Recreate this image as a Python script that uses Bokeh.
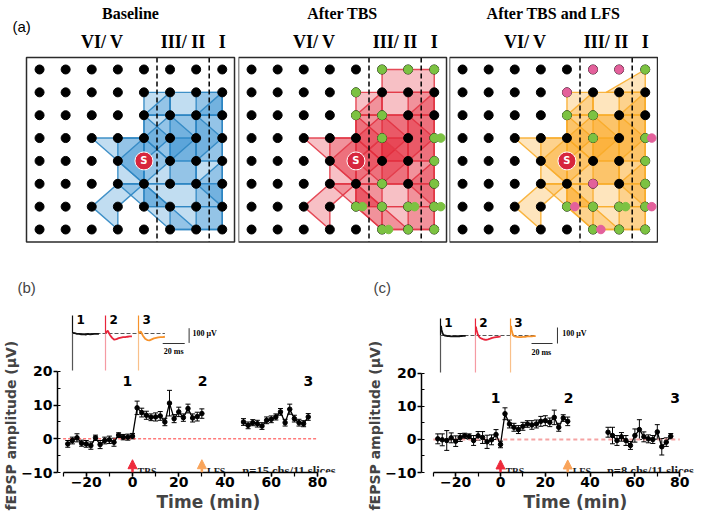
import numpy as np
from bokeh.plotting import figure
from bokeh.layouts import column, row
from bokeh.models import (Range1d, SingleIntervalTicker, Title, BoxAnnotation,
                          ColumnDataSource, Whisker, TeeHead, Arrow, NormalHead)
from bokeh.core.properties import value
from bokeh.embed import file_html
from bokeh.resources import INLINE

# ---------------- Panel (a): electrode grid maps ----------------
GRID_COLS = list(range(8))
GRID_ROWS = list(range(8))
STIM_SITE = (4, 4)
LAYER_BOUNDARIES = [4.5, 6.5]
LAYER_TICKS = [2.4, 5.5, 7.0]
LAYER_NAMES = ["VI/ V", "III/ II", "I"]
PANEL_TITLES = ["Baseline", "After TBS", "After TBS and LFS"]

# activation polygons (column, row) of the grid
BASE_SHAPES = [
    [(5, 1), (7, 1), (7, 2), (5, 2)],
    [(4, 1), (5, 1), (5, 2), (4, 2)],
    [(5, 1), (4, 2), (5, 2)],
    [(4, 2), (6, 2), (6, 5), (4, 5)],
    [(5, 2), (7, 2), (7, 4), (5, 4)],
    [(5, 3), (6, 3), (6, 5), (5, 5)],
    [(3, 3), (4, 3), (4, 5), (3, 5)],
    [(2, 3), (4, 3), (4, 5)],
    [(3, 4), (4, 3), (5, 4), (4, 5)],
    [(2, 6), (3, 5), (4, 5), (3, 6), (3, 7)],
    [(3, 5), (4, 5), (6, 7), (5, 7)],
    [(4, 5), (7, 5), (7, 6), (4, 6)],
    [(5, 6), (7, 6), (7, 7), (5, 7)],
    [(6, 1), (7, 1), (7, 7), (6, 7)],
    [(6, 2), (7, 3), (6, 4)],
    [(7, 4), (6, 5), (7, 6)],
    [(7, 1), (6, 2), (7, 2)],
    [(4, 5), (5, 6), (4, 6)],
    [(4, 2), (5, 3), (4, 4)],
    [(5, 2), (6, 3), (5, 4), (4, 3)],
]
TBS_EXTRA = [
    [(5, 0), (7, 0), (7, 1), (5, 1)],
    [(4, 2), (7, 2), (7, 5), (4, 5)],
    [(4, 5), (5, 5), (5, 7), (4, 6)],
    [(4, 4), (5, 3), (6, 4), (5, 5)],
]
LFS_EXTRA = [
    [(7, 0), (7, 1), (5.5, 1)],
    [(4, 2), (7, 2), (7, 5), (4, 5)],
    [(4, 5), (5, 5), (5, 7), (4, 6)],
]
TBS_NEW = [(5, 0), (6, 0), (7, 0), (4, 1), (4, 2), (5, 2), (5, 3), (7, 3), (7.25, 3), (7, 4),
           (5, 5), (7, 5), (4, 6), (4.25, 6), (5, 6), (6, 6), (6.25, 6), (7, 6), (7.25, 6),
           (5, 7), (5.25, 7), (6, 7), (7, 7)]
LFS_KEPT = [(7, 0), (4, 2), (5, 2), (5, 3), (7, 3), (7, 4), (7, 5), (4, 6), (5, 6), (6, 6),
            (6.25, 6), (7, 6), (5, 7), (6, 7), (7, 7)]
LFS_LOST = [(5, 0), (6, 0), (4, 1), (7.25, 3), (5, 5), (4.3, 6), (7.25, 6), (5.3, 7)]

# ---------------- Panels (b), (c): fEPSP time course ----------------
T_PRE = [-28, -26, -24, -22, -20, -18, -16, -14, -12, -10, -8, -6, -4, -2, 0]
T_POST = [2, 4, 6, 8, 10, 12, 14, 16, 18, 20, 22, 24, 26, 28, 30]
T_LATE = [48, 50, 52, 54, 56, 58, 60, 62, 64, 66, 68, 70, 72, 74, 76]

B_PRE_V = [-1.5, -0.5, 0.3, -1.3, -1.5, -2.0, 0.3, -1.7, -0.5, -0.3, -1.0, 1.1, 0.5, 0.5, 0.8]
B_PRE_E = [1.0, 1.0, 1.2, 0.9, 1.0, 1.1, 0.8, 1.2, 1.0, 1.1, 1.2, 0.7, 0.8, 0.9, 0.8]
B_POST_V = [9.2, 7.8, 7.0, 6.4, 6.5, 6.8, 5.0, 10.6, 6.0, 8.0, 6.3, 9.0, 6.2, 6.6, 7.5]
B_POST_E = [2.0, 1.3, 1.2, 1.0, 1.2, 1.3, 1.1, 3.8, 1.2, 1.4, 1.1, 1.3, 1.2, 1.3, 1.4]
B_LATE_V = [5.0, 4.0, 4.8, 4.5, 3.8, 5.5, 5.8, 6.5, 8.0, 4.8, 8.8, 6.0, 4.8, 4.5, 6.5]
B_LATE_E = [1.0, 1.0, 0.9, 1.0, 1.0, 1.0, 1.0, 0.9, 1.0, 1.0, 1.5, 1.0, 1.0, 0.9, 1.0]

C_PRE_V = [0.2, -0.1, -0.3, 0.5, -0.5, 0.6, 1.1, 0.9, -0.3, 1.1, 0.6, -0.7, -0.1, 1.5, -1.5]
C_PRE_E = [1.5, 1.8, 3.0, 1.5, 1.6, 1.2, 0.8, 0.8, 1.5, 1.3, 1.8, 2.0, 1.5, 1.5, 1.0]
C_POST_V = [7.8, 4.7, 3.7, 3.0, 4.0, 4.7, 4.4, 4.7, 5.5, 5.7, 5.2, 6.7, 3.7, 6.5, 5.5]
C_POST_E = [1.8, 1.2, 1.2, 1.2, 1.2, 1.0, 1.3, 1.2, 1.5, 1.5, 1.3, 2.2, 1.2, 1.0, 1.3]
C_LATE_V = [2.2, 1.2, -0.3, 0.8, -0.3, -1.8, 1.2, 3.0, 0.8, 0.2, 0.0, 2.3, -2.2, -0.8, 1.0]
C_LATE_E = [1.5, 2.5, 1.5, 1.3, 1.5, 1.2, 2.0, 3.0, 1.5, 1.2, 1.2, 2.2, 2.5, 1.3, 0.8]

BASELINE_T = [-30, 80]
PHASE_LABELS = ["1", "2", "3"]
B_PHASE_T = [-2.2, 30.3, 76.0]
B_PHASE_Y = [17.3, 17.3, 17.3]
C_PHASE_T = [-2.2, 30.4, 78.0]
C_PHASE_Y = [12.7, 12.7, 12.7]
STIM_T = [0, 30]
STIM_NAMES = ["TBS", "LFS"]
B_N_TEXT = "n=15 chs/11 slices"
C_N_TEXT = "n=8 chs/11 slices"

# inset example traces (ms, uV)
TRACE_MS = [0.5, 1, 2, 3, 4, 6, 8, 10, 12, 14, 16, 18, 20, 22, 24]
B_TR1 = [0, 4, 3, 0, -3, -2, -6, -4, -7, -3, -5, -4, -2, -3, -2]
B_TR2 = [0, 10, 20, 5, -10, -30, -42, -38, -32, -28, -25, -25, -22, -20, -20]
B_TR3 = [0, 8, 15, 0, -15, -35, -45, -47, -40, -33, -30, -27, -25, -24, -22]
C_TR1 = [60, 35, 12, 3, 0, -3, -4, -5, -6, -5, -4, -5, -3, -2, -2]
C_TR2 = [55, 35, 12, -3, -12, -20, -25, -27, -24, -20, -15, -12, -10, -8, -6]
C_TR3 = [60, 35, 10, -3, -6, -8, -10, -10, -9, -8, -6, -5, -5, -4, -4]
B_ARTIFACT = [122, -252]
C_ARTIFACT = [106, -231]

SERIF = "Liberation Serif"
SANS = "DejaVu Sans"

# grid panel geometry (pixels per grid step)
COL_PX, ROW_PX = 26.1, 22.86
BOX = dict(left=-0.5, right=7.47, top=-0.52, bottom=7.55)
GRID_Y_RANGE = (7.612, -3.018)
ROW1_H = 243


def grid_panel(title, shapes, fill, line, green, pink, fw, pad_left, tag=None):
    x0 = BOX["left"] - pad_left / COL_PX
    p = figure(frame_width=fw, frame_height=ROW1_H,
               x_range=Range1d(x0, x0 + fw / COL_PX), y_range=Range1d(*GRID_Y_RANGE),
               x_axis_location=None, y_axis_location=None,
               toolbar_location=None, output_backend="svg",
               min_border_left=0, min_border_right=0, min_border_top=0, min_border_bottom=0)
    p.grid.visible = False
    p.outline_line_color = None
    cx = (BOX["left"] + BOX["right"]) / 2

    xs = [[v[0] for v in s] for s in shapes]
    ys = [[v[1] for v in s] for s in shapes]
    p.patches(xs, ys, fill_color=fill, fill_alpha=0.28, line_color=line, line_width=1.4, line_alpha=0.9)
    p.segment(LAYER_BOUNDARIES, [BOX["top"]] * 2, LAYER_BOUNDARIES, [BOX["bottom"]] * 2,
              line_color="black", line_dash="5 3", line_width=1.5)
    gx, gy = np.meshgrid(GRID_COLS, GRID_ROWS)
    p.scatter(gx.ravel(), gy.ravel(), size=9, color="black")
    if green:
        p.scatter([g[0] for g in green], [g[1] for g in green], size=8.5, color="#7cc242")
    if pink:
        p.scatter([g[0] for g in pink], [g[1] for g in pink], size=8.5, color="#e3609b")
    p.scatter([STIM_SITE[0]], [STIM_SITE[1]], size=18, fill_color="#d7263d", line_color="white", line_width=1)
    p.text([STIM_SITE[0]], [STIM_SITE[1]], text=["S"], text_color="white", text_font=value(SANS),
           text_font_style="bold", text_font_size="10px", text_align="center", text_baseline="middle")
    p.add_layout(BoxAnnotation(fill_alpha=0, line_color="#2b2b2b", line_alpha=1.0, line_width=1.5, **BOX))

    # panel title and cortical layer names above the grid
    p.text([cx], [-2.43], text=[title], text_font=value(SERIF), text_font_style="bold",
           text_font_size="16px", text_align="center", text_baseline="middle", text_color="black")
    p.text(LAYER_TICKS, [-1.2] * 3, text=LAYER_NAMES, text_font=value(SERIF), text_font_style="bold",
           text_font_size="18px", text_align="center", text_baseline="middle", text_color="black")
    if tag:
        p.text([BOX["left"] - 14 / COL_PX], [-1.88], text=[tag], text_font=value("Liberation Sans"),
               text_font_size="15px", text_align="left", text_baseline="middle", text_color="black")
    return p


def time_panel(tag, tag_offset, xr, yr, fw, lb, rb, pre, post, late, phase_t, phase_y, ntext,
               zero_style, ms_range, uv_range, traces, offsets, artifact, bars, xlab_off):
    p = figure(frame_width=fw, frame_height=160, x_range=Range1d(*xr), y_range=Range1d(*yr),
               toolbar_location=None, output_backend="svg", title=tag,
               min_border_left=lb, min_border_right=rb, min_border_top=69, min_border_bottom=42)
    p.grid.visible = False
    p.outline_line_color = None
    p.title.text_font = "Liberation Sans"
    p.title.text_font_style = "normal"
    p.title.text_font_size = "15px"
    p.title.align = "left"
    p.title.offset = tag_offset
    p.title.standoff = 33
    for ax in (p.xaxis[0], p.yaxis[0]):
        ax.axis_line_width = 1.5
        ax.major_tick_line_width = 1.5
        ax.minor_tick_line_width = 1.2
        ax.major_tick_in = 0
        ax.major_tick_out = 4
        ax.major_label_text_font = SANS
        ax.major_label_text_font_style = "bold"
        ax.major_label_text_font_size = "14px"
        ax.major_label_text_color = "black"
    p.xaxis.bounds = (-30, 80)
    p.xaxis.ticker = SingleIntervalTicker(interval=20, num_minor_ticks=2)
    p.xaxis.minor_tick_in = 0
    p.xaxis.minor_tick_out = 4
    p.xaxis.major_label_standoff = 0
    p.yaxis.bounds = (-10, 20)
    p.yaxis.ticker = SingleIntervalTicker(interval=10, num_minor_ticks=2)
    p.yaxis.minor_tick_in = 3
    p.yaxis.minor_tick_out = 0
    p.yaxis.major_label_standoff = 1
    p.add_layout(Title(text="fEPSP amplitude (μV)", align="left", offset=-38, standoff=0,
                       text_font=SANS, text_font_style="bold", text_font_size="14px"), "left")
    p.add_layout(Title(text="Time (min)", align="left", offset=xlab_off, standoff=0,
                       text_font=SANS, text_font_style="bold", text_font_size="17px"), "below")

    # zero reference line
    p.line(BASELINE_T, [0, 0], **zero_style)

    (tp, vp, ep), (tq, vq, eq), (tl, vl, el) = pre, post, late
    t_main = tp + tq
    v_main = vp + vq
    e_main = ep + eq
    p.line(t_main, v_main, line_color="black", line_width=1.3)
    p.line(tl, vl, line_color="black", line_width=1.3)
    for ts, vs, es in ((t_main, v_main, e_main), (tl, vl, el)):
        src = ColumnDataSource(dict(t=ts, v=vs, lo=[a - b for a, b in zip(vs, es)],
                                    hi=[a + b for a, b in zip(vs, es)]))
        p.add_layout(Whisker(base="t", lower="lo", upper="hi", source=src, line_color="black",
                             line_width=1,
                             upper_head=TeeHead(size=5, line_color="black", line_width=1),
                             lower_head=TeeHead(size=5, line_color="black", line_width=1)))
        p.scatter("t", "v", source=src, size=4.5, color="black")

    p.text(phase_t, phase_y, text=PHASE_LABELS, text_font=value(SANS), text_font_style="bold",
           text_font_size="14px", text_align="center", text_baseline="middle", text_color="black")

    arrow_cols = ["#ee2a3b", "#f9a45a"]
    for t, col in zip(STIM_T, arrow_cols):
        p.add_layout(Arrow(end=NormalHead(size=9, fill_color=col, line_color=col),
                           x_start=t, y_start=-10, x_end=t, y_end=-6.2,
                           line_color=col, line_width=2.5))
    p.text([t + 2.2 for t in STIM_T], [-9.7, -9.7], text=STIM_NAMES, text_font=value(SERIF),
           text_font_style="bold", text_font_size="10px", text_baseline="alphabetic",
           text_color="#222222")
    p.text([47.5], [-9.5], text=[ntext], text_font=value(SERIF), text_font_style="bold",
           text_font_size="12.5px", text_baseline="alphabetic", text_color="#222222")

    # ---- inset example traces ----
    p.extra_x_ranges = {"ms": Range1d(*ms_range)}
    p.extra_y_ranges = {"uv": Range1d(*uv_range)}
    kw = dict(x_range_name="ms", y_range_name="uv")
    end = offsets[-1] + TRACE_MS[-1]
    p.line([0, end], [0, 0], line_color="#555555", line_dash="4 2", line_width=1, **kw)
    cols = ["#111111", "#e8243a", "#f7922a"]
    lights = ["#555555", "#f59aa3", "#f9c08a"]
    for off, tr, col, lc, lab in zip(offsets, traces, cols, lights, PHASE_LABELS):
        p.segment([off], [artifact[0]], [off], [0], line_color=col, line_width=1.2, **kw)
        p.segment([off], [0], [off], [artifact[1]], line_color=lc, line_width=1.2, **kw)
        p.line([off + t for t in TRACE_MS], tr, line_color=col, line_width=1.8, **kw)
        p.text([off + 7.5], [artifact[0] * 0.78], text=[lab], text_font=value(SANS),
               text_font_style="bold", text_font_size="12px", text_align="center",
               text_baseline="middle", **kw)
    hx0, hx1, hy, vx, vy0, vy1, tx, ty, sx, sy = bars
    p.segment([hx0], [hy], [hx1], [hy], line_color="#333333", line_width=1, **kw)
    p.segment([vx], [vy0], [vx], [vy1], line_color="#333333", line_width=1, **kw)
    p.text([tx], [ty], text=["100 μV"], text_font=value(SERIF), text_font_style="bold",
           text_font_size="8px", text_baseline="middle", **kw)
    p.text([sx], [sy], text=["20 ms"], text_font=value(SERIF), text_font_style="bold",
           text_font_size="8px", text_baseline="middle", text_align="center", **kw)
    return p


a1 = grid_panel(PANEL_TITLES[0], BASE_SHAPES, "#1f86cc", "#2f86c2", None, None, 238, 26, tag="(a)")
a2 = grid_panel(PANEL_TITLES[1], BASE_SHAPES + TBS_EXTRA, "#e41e2e", "#e23a48", TBS_NEW, None, 211, 0)
a3 = grid_panel(PANEL_TITLES[2], BASE_SHAPES + LFS_EXTRA, "#fca311", "#f8ae30", LFS_KEPT, LFS_LOST, 209, 0)

pb = time_panel("(b)", -40, (-32.43, 94.27), (-10, 37.52), 293, 52, 10,
                (T_PRE, B_PRE_V, B_PRE_E), (T_POST, B_POST_V, B_POST_E), (T_LATE, B_LATE_V, B_LATE_E),
                B_PHASE_T, B_PHASE_Y, B_N_TEXT,
                dict(line_color="#ff3a3a", line_dash="3 2", line_width=1),
                (-13.64, 252.7), (-945.2, 142.8), [B_TR1, B_TR2, B_TR3], [0, 30, 60], B_ARTIFACT,
                (82, 102, -68, 106, -64, 36, 109, 0, 92, -120), 99)
pc = time_panel("(c)", -48, (-35.27, 89.73), (-10, 38.48), 280, 61, 1,
                (T_PRE, C_PRE_V, C_PRE_E), (T_POST, C_POST_V, C_POST_E), (T_LATE, C_LATE_V, C_LATE_E),
                C_PHASE_T, C_PHASE_Y, C_N_TEXT,
                dict(line_color="#f5a3a3", line_dash="4 3", line_width=2),
                (-18.1, 248.6), (-856.25, 143.75), [C_TR1, C_TR2, C_TR3], [0, 33.3, 66.7], C_ARTIFACT,
                (86.7, 106.7, -50, 111.4, -50, 50, 116, 12, 96, -106), 102)

layout = column(row(a1, a2, a3), row(pb, pc))
open("out.html", "w").write(file_html(layout, INLINE))
